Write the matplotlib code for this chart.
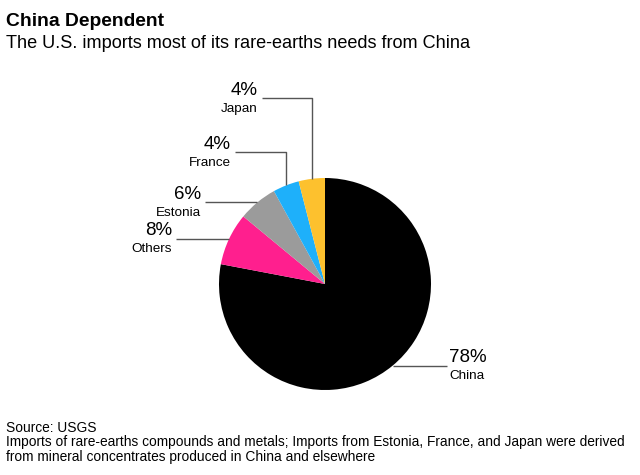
import matplotlib
matplotlib.use("Agg")
import matplotlib.pyplot as plt
import numpy as np

plt.rcParams['font.family'] = ['Liberation Sans', 'DejaVu Sans']

# data
countries = ['China', 'Others', 'Estonia', 'France', 'Japan']
shares = [78, 8, 6, 4, 4]
colors = ['#000000', '#ff1f8e', '#9b9b9b', '#1eb0fa', '#fdc12e']

W, H = 640, 475
fig = plt.figure(figsize=(W / 100, H / 100), dpi=100)

# pie box in pixels: centre (325, 284), radius 106
cx, cy, r = 325, 284, 106
ax = fig.add_axes([(cx - r) / W, 1 - (cy + r) / H, 2 * r / W, 2 * r / H])
wedges, _ = ax.pie(shares, colors=colors, startangle=90, counterclock=False,
                   radius=1, wedgeprops=dict(linewidth=0))
ax.set_xlim(-1, 1)
ax.set_ylim(-1, 1)
ax.set_aspect('equal')
ax.axis('off')

def px_x(p):
    return (p - cx) / r

def px_y(p):
    return (cy - p) / r

# leader layout: (elbow y in px or None, end x in px)
leaders = {
    'China': (None, 447),
    'Others': (None, 176),
    'Estonia': (None, 205),
    'France': (152, 235),
    'Japan': (98, 262),
}

lc = '#555555'
for w, name, val in zip(wedges, countries, shares):
    mid = np.deg2rad((w.theta1 + w.theta2) / 2)
    x0, y0 = np.cos(mid), np.sin(mid)
    elbow, xend = leaders[name]
    xe = px_x(xend)
    if elbow is None:
        xs, ys = [x0, xe], [y0, y0]
        yl = y0
    else:
        yl = px_y(elbow)
        xs, ys = [x0, x0, xe], [y0, yl, yl]
    ax.plot(xs, ys, color=lc, lw=1, clip_on=False, solid_capstyle='butt')
    if xe > 0:
        tx, ha = xe + 2 / r, 'left'
    else:
        tx, ha = xe - 4 / r, 'right'
    ax.text(tx, yl + 3.5 / r, f'{val}%', ha=ha, va='baseline',
            fontsize=13.5, color='#000000', clip_on=False)
    ax.text(tx, yl - 13.5 / r, name, ha=ha, va='baseline',
            fontsize=9.7, color='#000000', clip_on=False)

def fy(p):
    return 1 - p / H

fig.text(6 / W, fy(26), 'China Dependent', fontsize=13.9, fontweight='bold',
         va='baseline', ha='left')
fig.text(6 / W, fy(47.5), 'The U.S. imports most of its rare-earths needs from China',
         fontsize=13.1, va='baseline', ha='left')

fig.text(6 / W, fy(431.5), 'Source: USGS', fontsize=9.95, va='baseline', ha='left')
fig.text(6 / W, fy(446), 'Imports of rare-earths compounds and metals; Imports from '
         'Estonia, France, and Japan were derived', fontsize=9.95, va='baseline', ha='left')
fig.text(6 / W, fy(460.5), 'from mineral concentrates produced in China and elsewhere',
         fontsize=9.95, va='baseline', ha='left')

fig.savefig('out.png', dpi=100)
